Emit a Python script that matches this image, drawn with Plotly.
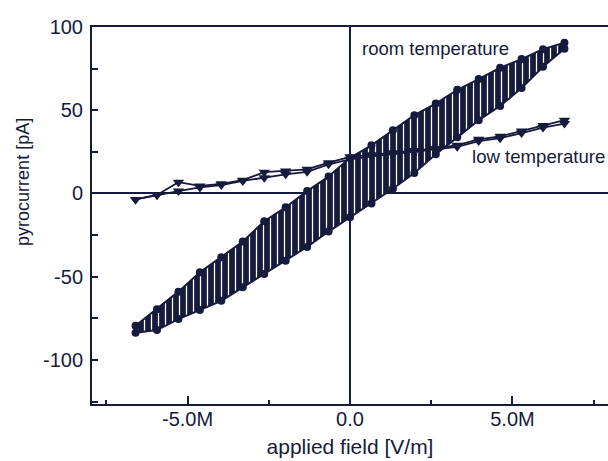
import plotly.graph_objects as go

NAVY = "#161a3c"

# applied field [V/m]
field = [-6.6e6, -5.94e6, -5.28e6, -4.62e6, -3.96e6, -3.3e6, -2.64e6, -1.98e6, -1.32e6, -0.66e6,
         0.0, 0.66e6, 1.32e6, 1.98e6, 2.64e6, 3.3e6, 3.96e6, 4.62e6, 5.28e6, 5.94e6, 6.6e6]

# room temperature hysteresis branches [pA]
room_upper = [-79.5, -69.5, -59.0, -47.4, -38.3, -28.9, -16.7, -8.3, 1.4, 10.2, 21.4,
              28.9, 38.0, 47.0, 54.0, 62.3, 68.7, 75.5, 80.7, 86.7, 90.6]
room_lower = [-83.7, -82.1, -75.5, -70.1, -64.5, -56.4, -48.4, -40.4, -32.1, -22.9, -14.3,
              -6.0, 2.8, 12.3, 23.5, 33.7, 44.0, 52.6, 63.3, 76.1, 87.0]

# low temperature branches [pA]
low_a = [-3.6, -0.9, 6.8, 4.5, 5.8, 8.0, 12.8, 13.5, 14.5, 18.5, 22.0,
         23.2, 24.4, 25.8, 27.0, 29.0, 32.5, 34.3, 37.5, 40.8, 44.0]
low_b = [-3.6, -0.9, 1.4, 3.6, 5.0, 7.5, 9.5, 11.5, 13.0, 17.5, 20.5,
         22.3, 23.6, 25.0, 26.2, 28.0, 31.5, 33.2, 36.3, 39.6, 42.0]

x_tickvals = [-5e6, 0, 5e6]
x_ticktext = ["-5.0M", "0.0", "5.0M"]
y_tickvals = [-100, -50, 0, 50, 100]
y_ticktext = ["-100", "-50", "0", "50", "100"]

fig = go.Figure()

fig.add_trace(go.Scatter(
    x=field, y=room_upper, mode="lines+markers",
    line=dict(color=NAVY, width=2),
    marker=dict(symbol="circle", size=8, color=NAVY),
    showlegend=False))
fig.add_trace(go.Scatter(
    x=field, y=room_lower, mode="lines+markers",
    line=dict(color=NAVY, width=2),
    marker=dict(symbol="circle", size=8, color=NAVY),
    fill="tonexty",
    fillpattern=dict(shape="|", bgcolor=NAVY, fgcolor="white", size=7,
                     solidity=0.18, fillmode="replace"),
    showlegend=False))

fig.add_trace(go.Scatter(
    x=field, y=low_a, mode="lines+markers",
    line=dict(color=NAVY, width=1.8),
    marker=dict(symbol="triangle-down", size=10, color=NAVY),
    showlegend=False))
fig.add_trace(go.Scatter(
    x=field, y=low_b, mode="lines+markers",
    line=dict(color=NAVY, width=1.8),
    marker=dict(symbol="triangle-down", size=10, color=NAVY),
    showlegend=False))

font_family = "Liberation Sans, Arial, sans-serif"

fig.add_annotation(x=0.3e6, y=87, xref="x", yref="y", text="room temperature",
                   showarrow=False, xanchor="left", yanchor="middle",
                   font=dict(size=18.5, color=NAVY, family=font_family))
fig.add_annotation(x=3.7e6, y=22, xref="x", yref="y", text="low temperature",
                   showarrow=False, xanchor="left", yanchor="middle",
                   font=dict(size=18.6, color=NAVY, family=font_family))
fig.add_annotation(x=-0.135, y=0.59, xref="paper", yref="paper", text="pyrocurrent [pA]",
                   textangle=-90, showarrow=False, xanchor="center", yanchor="middle",
                   font=dict(size=18, color=NAVY, family=font_family))

fig.update_layout(
    width=608, height=461,
    margin=dict(l=92, r=0, t=27, b=57),
    paper_bgcolor="white", plot_bgcolor="white",
    font=dict(family=font_family, size=20, color=NAVY),
    xaxis=dict(
        range=[-7.94e6, 7.94e6],
        tickvals=x_tickvals, ticktext=x_ticktext,
        ticks="inside", ticklen=8, tickwidth=1.5, tickcolor=NAVY,
        minor=dict(tickvals=[-7.5e6, -2.5e6, 2.5e6, 7.5e6], ticks="inside", ticklen=4,
                   tickwidth=1.5, tickcolor=NAVY, showgrid=False),
        showline=True, linecolor=NAVY, linewidth=2, mirror=True,
        showgrid=False,
        zeroline=True, zerolinecolor=NAVY, zerolinewidth=2,
        title=dict(text="applied field [V/m]", font=dict(size=21, color=NAVY, family=font_family),
                   standoff=10),
        tickfont=dict(size=20, color=NAVY, family=font_family),
        ticklabelstandoff=-4,
    ),
    yaxis=dict(
        range=[-126.5, 100],
        tickvals=y_tickvals, ticktext=y_ticktext,
        ticks="inside", ticklen=6, tickwidth=1.5, tickcolor=NAVY,
        minor=dict(tickvals=[-125, -75, -25, 25, 75], ticks="inside", ticklen=6,
                   tickwidth=1.5, tickcolor=NAVY, showgrid=False),
        showline=True, linecolor=NAVY, linewidth=2, mirror=False,
        showgrid=False,
        zeroline=True, zerolinecolor=NAVY, zerolinewidth=2,
        tickfont=dict(size=20, color=NAVY, family=font_family),
        ticklabelstandoff=3,
    ),
)

fig.write_html("out.html")
